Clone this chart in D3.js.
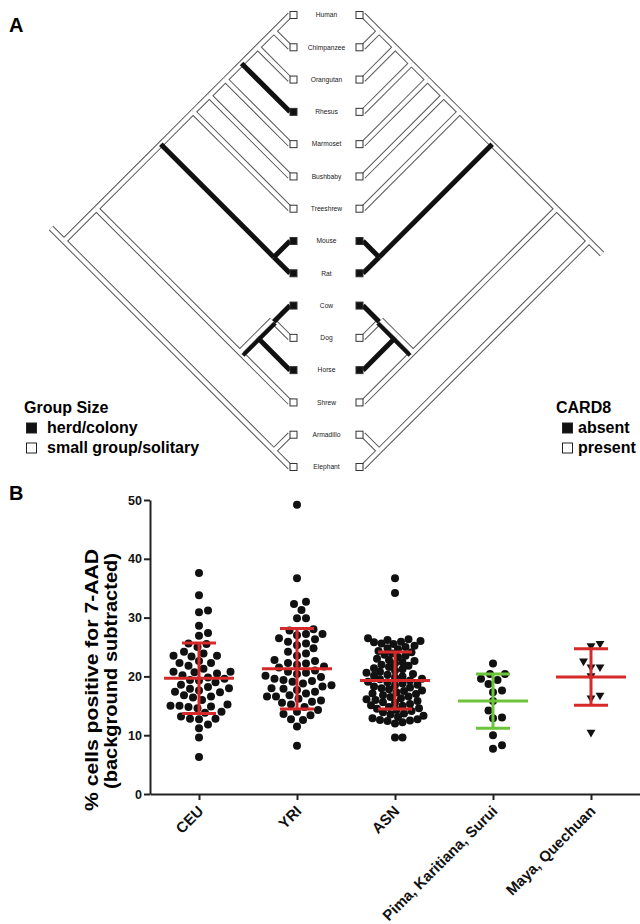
<!DOCTYPE html>
<html>
<head>
<meta charset="utf-8">
<script src="https://cdn.jsdelivr.net/npm/d3@7"></script>
<style>
  body { margin: 0; background: #fff; }
  svg { display: block; font-family: "Liberation Sans", Arial, sans-serif; }
</style>
</head>
<body>
<div id="chart"></div>
<script>
// ---- panel A data ----
const taxa = ["Human", "Chimpanzee", "Orangutan", "Rhesus", "Marmoset", "Bushbaby", "Treeshrew",
  "Mouse", "Rat", "Cow", "Dog", "Horse", "Shrew", "Armadillo", "Elephant"]
const euarchonta = [[[[[["Human", "Chimpanzee"], "Orangutan"], "Rhesus"], "Marmoset"], "Bushbaby"], "Treeshrew"]
const glires = ["Mouse", "Rat"]
const laurasia = [[["Cow", "Dog"], "Horse"], "Shrew"]
const atlanto = ["Armadillo", "Elephant"]
const treeShape = [[[euarchonta, glires], laurasia], atlanto]

const herdColony = ["Rhesus", "Mouse", "Rat", "Cow", "Horse"]
const card8Absent = ["Mouse", "Rat", "Cow", "Horse"]
// branches named by the leaves below them
const groupBlack = ["Rhesus", "Mouse", "Rat", "Mouse,Rat", "Cow", "Horse"]
const groupHalf = ["Cow,Dog", "Cow,Dog,Horse"]
const card8Black = ["Mouse", "Rat", "Mouse,Rat", "Cow", "Horse"]
const card8Half = ["Cow,Dog", "Cow,Dog,Horse"]

// ---- panel B data ----
const groups = ["CEU", "YRI", "ASN", "Pima, Karitiana, Surui", "Maya, Quechuan"]
const ceu = [37.6, 33.8, 31.2, 30.9, 28.6, 27.4, 26.9, 25.6, 25.5, 25.0, 24.2, 23.9, 23.5, 23.5, 23.4,
  22.6, 22.3, 22.3, 21.8, 21.3, 20.8, 20.8, 20.7, 20.5, 20.2, 19.8, 19.6, 19.4, 19.3, 19.0, 18.6, 18.2,
  18.0, 17.9, 17.6, 17.4, 17.3, 16.8, 16.6, 16.4, 16.0, 15.2, 15.0, 15.0, 14.9, 14.8, 14.6, 14.0, 13.8,
  13.2, 12.8, 12.8, 12.7, 11.8, 11.2, 9.6, 6.3]
const yri = [49.2, 36.7, 32.7, 32.3, 31.3, 29.9, 29.9, 28.0, 27.8, 27.2, 27.2, 27.0, 26.5, 26.3, 25.9,
  25.6, 25.3, 24.8, 24.2, 23.9, 23.5, 22.8, 22.6, 22.3, 22.2, 22.0, 21.7, 21.5, 21.0, 20.8, 20.6, 20.4,
  20.1, 19.9, 19.6, 19.4, 19.2, 19.1, 18.8, 18.5, 18.3, 18.0, 17.9, 17.7, 17.4, 17.1, 16.8, 16.6, 16.6,
  16.2, 15.9, 15.7, 15.5, 15.2, 14.8, 14.3, 14.0, 13.6, 13.4, 12.7, 12.6, 11.5, 8.2]
const asn = [36.7, 34.2, 26.5, 26.3, 26.2, 26.0, 25.9, 25.8, 25.6, 25.5, 25.2, 25.0, 24.8, 24.6, 24.3,
  24.1, 23.9, 23.7, 23.5, 23.3, 23.0, 22.8, 22.6, 22.4, 22.2, 22.0, 21.8, 21.6, 21.4, 21.2, 21.0, 20.8,
  20.6, 20.4, 20.3, 20.1, 20.0, 19.8, 19.6, 19.5, 19.3, 19.1, 19.0, 18.8, 18.6, 18.5, 18.3, 18.1, 18.0,
  17.8, 17.6, 17.5, 17.3, 17.1, 17.0, 16.8, 16.6, 16.5, 16.3, 16.1, 16.0, 15.8, 15.6, 15.5, 15.3, 15.1,
  15.0, 14.8, 14.6, 14.5, 14.3, 14.1, 13.9, 13.7, 13.5, 13.3, 13.1, 12.9, 12.7, 12.6, 12.5, 12.4, 12.2,
  12.0, 9.6, 9.6]
const pima = [22.2, 20.4, 20.4, 19.6, 19.4, 18.7, 17.6, 17.3, 15.8, 14.2, 13.0, 12.9, 10.0, 8.3, 7.7]
const maya = [25.6, 25.2, 22.6, 21.6, 21.6, 20.1, 16.8, 16.3, 10.5]
const groupValues = [ceu, yri, asn, pima, maya]
const groupMeans = [19.7, 21.3, 19.3, 15.8, 19.9]
const groupSDs = [6.0, 6.85, 4.85, 4.6, 4.8]
const yTicks = [0, 10, 20, 30, 40, 50]

const W = 640, H = 924
const svg = d3.select("#chart").append("svg")
  .attr("width", W).attr("height", H)

// ================= panel A =================
svg.append("text").attr("x", 9).attr("y", 31.5)
  .style("font-size", "20px").style("font-weight", "bold").text("A")

const rowY = d3.scalePoint().domain(taxa).range([15, 467])
const leafXL = 290, leafXR = 363

function drawTree(side, blackSet, halfSet) {
  const g = svg.append("g").attr("class", "tree-" + side)
  const root = d3.hierarchy(treeShape, d => Array.isArray(d) ? d : null)
  root.each(n => {
    const names = n.leaves().map(l => l.data)
    const ys = names.map(rowY)
    const lo = d3.min(ys), hi = d3.max(ys)
    n.key = names.join(",")
    n.py = (lo + hi) / 2
    n.px = side === "left" ? leafXL - (hi - lo) / 2 : leafXR + (hi - lo) / 2
  })

  let openSegs = [], blackSegs = []
  // root stub
  const s = side === "left" ? -13 : 13
  openSegs.push([root.px, root.py, root.px + s, root.py + s])

  root.links().forEach(l => {
    const x1 = l.source.px, y1 = l.source.py, x2 = l.target.px, y2 = l.target.py
    if (blackSet.includes(l.target.key)) {
      blackSegs.push([x1, y1, x2, y2, 5])
    } else if (halfSet.includes(l.target.key)) {
      let len = Math.hypot(x2 - x1, y2 - y1)
      let nx = -(y2 - y1) / len, ny = (x2 - x1) / len
      if (ny > 0) { nx = -nx; ny = -ny }
      openSegs.push([x1 + nx * 2.5, y1 + ny * 2.5, x2 + nx * 2.5, y2 + ny * 2.5])
      blackSegs.push([x1 - nx * 2, y1 - ny * 2, x2 - nx * 2, y2 - ny * 2, 4])
    } else {
      openSegs.push([x1, y1, x2, y2])
    }
  })

  const line = (sel, data, color, width) => sel.selectAll(null)
    .data(data).enter().append("line")
    .attr("x1", d => d[0]).attr("y1", d => d[1])
    .attr("x2", d => d[2]).attr("y2", d => d[3])
    .attr("stroke", color)
    .attr("stroke-width", width)

  line(g, openSegs, "#555", 6.2)
  line(g, openSegs, "#fff", 4.2)
  line(g, blackSegs, "#111", d => d[4])

  const filled = side === "left" ? herdColony : card8Absent
  g.selectAll(".box").data(taxa).enter().append("rect")
    .attr("class", "box")
    .attr("x", side === "left" ? leafXL : leafXR - 7)
    .attr("y", d => rowY(d) - 3.5)
    .attr("width", 7).attr("height", 7)
    .attr("fill", d => filled.includes(d) ? "#111" : "#fff")
    .attr("stroke", "#333").attr("stroke-width", 1)
}

drawTree("left", groupBlack, groupHalf)
drawTree("right", card8Black, card8Half)

svg.append("g").selectAll("text").data(taxa).enter().append("text")
  .attr("x", (leafXL + leafXR) / 2)
  .attr("y", d => rowY(d))
  .attr("dy", "0.35em")
  .attr("text-anchor", "middle")
  .style("font-size", "6.7px")
  .style("fill", "#222")
  .text(d => d)

function legend(x, title, items) {
  const g = svg.append("g").style("font-weight", "bold").style("font-size", "16px")
  g.append("text").attr("x", x).attr("y", 413).text(title)
  items.forEach((it, i) => {
    const yy = 433 + i * 20
    g.append("rect")
      .attr("x", x + (title === "CARD8" ? 6.5 : 2.5)).attr("y", yy - 10)
      .attr("width", 10).attr("height", 10)
      .attr("fill", i === 0 ? "#111" : "#fff")
      .attr("stroke", "#222").attr("stroke-width", 1)
    g.append("text").attr("x", x + (title === "CARD8" ? 22 : 23)).attr("y", yy).text(it)
  })
}
legend(24, "Group Size", ["herd/colony", "small group/solitary"])
legend(556, "CARD8", ["absent", "present"])

// ================= panel B =================
svg.append("text").attr("x", 9).attr("y", 500)
  .style("font-size", "20px").style("font-weight", "bold").text("B")

const y = d3.scaleLinear().domain([0, 50]).range([794, 500])
const x = d3.scalePoint().domain(groups).range([150, 640]).padding(0.5)

const gB = svg.append("g")

// beeswarm offsets so the dots do not overlap
function swarm(vals, D) {
  const placed = []
  vals.slice().sort((a, b) => a - b).forEach(v => {
    const py = y(v)
    for (let k = 0; k < 400; k++) {
      const off = k === 0 ? 0 : (k % 2 ? 1 : -1) * Math.ceil(k / 2) * 1.5
      if (placed.every(p => (p.dx - off) ** 2 + (p.py - py) ** 2 >= D * D)) {
        placed.push({v: v, dx: off, py: py})
        break
      }
    }
  })
  return placed
}

groupValues.forEach((vals, i) => {
  const cx = x(groups[i])
  const pts = swarm(vals, i === 2 ? 6.8 : 8.8)
  if (i === 4) {
    gB.append("g").selectAll("path").data(pts).enter().append("path")
      .attr("d", d3.symbol(d3.symbolTriangle, 34))
      .attr("transform", d => `translate(${cx + d.dx},${d.py}) rotate(180)`)
      .attr("fill", "#111")
  } else {
    gB.append("g").selectAll("circle").data(pts).enter().append("circle")
      .attr("cx", d => cx + d.dx).attr("cy", d => d.py)
      .attr("r", 4).attr("fill", "#111")
  }
})

// mean and SD bars
groups.forEach((gName, i) => {
  const cx = x(gName)
  const col = i === 3 ? "#6cc43a" : "#d62a2a"
  const m = groupMeans[i], sd = groupSDs[i]
  const bar = gB.append("g").attr("stroke", col).attr("stroke-width", 3)
  bar.append("line").attr("x1", cx - 35).attr("x2", cx + 35).attr("y1", y(m)).attr("y2", y(m))
  bar.append("line").attr("x1", cx).attr("x2", cx).attr("y1", y(m - sd)).attr("y2", y(m + sd))
  bar.append("line").attr("x1", cx - 17).attr("x2", cx + 17).attr("y1", y(m + sd)).attr("y2", y(m + sd))
  bar.append("line").attr("x1", cx - 17).attr("x2", cx + 17).attr("y1", y(m - sd)).attr("y2", y(m - sd))
})

const yAxis = gB.append("g").attr("transform", "translate(150,0)")
  .call(d3.axisLeft(y).tickValues(yTicks).tickSize(6).tickSizeOuter(0).tickPadding(2))
yAxis.selectAll("text").style("font-size", "12.5px").style("font-weight", "bold").style("fill", "#111")

const xAxis = gB.append("g").attr("transform", "translate(0,794)")
  .call(d3.axisBottom(x).tickSize(6).tickSizeOuter(0))
xAxis.selectAll("text")
  .attr("transform", "translate(5,18) rotate(-45)")
  .attr("x", 0).attr("y", 0).attr("dy", 0)
  .style("text-anchor", "end")
  .style("font-size", "15px").style("font-weight", "bold").style("fill", "#111")

gB.selectAll(".domain, .tick line").attr("stroke", "#222").attr("stroke-width", 2)

gB.append("text").attr("transform", "translate(98,680) rotate(-90)")
  .attr("text-anchor", "middle")
  .attr("textLength", 262).attr("lengthAdjust", "spacingAndGlyphs")
  .style("font-size", "17.5px").style("font-weight", "bold")
  .text("% cells positive for 7-AAD")
gB.append("text").attr("transform", "translate(117,671) rotate(-90)")
  .attr("text-anchor", "middle")
  .attr("textLength", 236).attr("lengthAdjust", "spacingAndGlyphs")
  .style("font-size", "17.5px").style("font-weight", "bold")
  .text("(background subtracted)")
</script>
</body>
</html>
